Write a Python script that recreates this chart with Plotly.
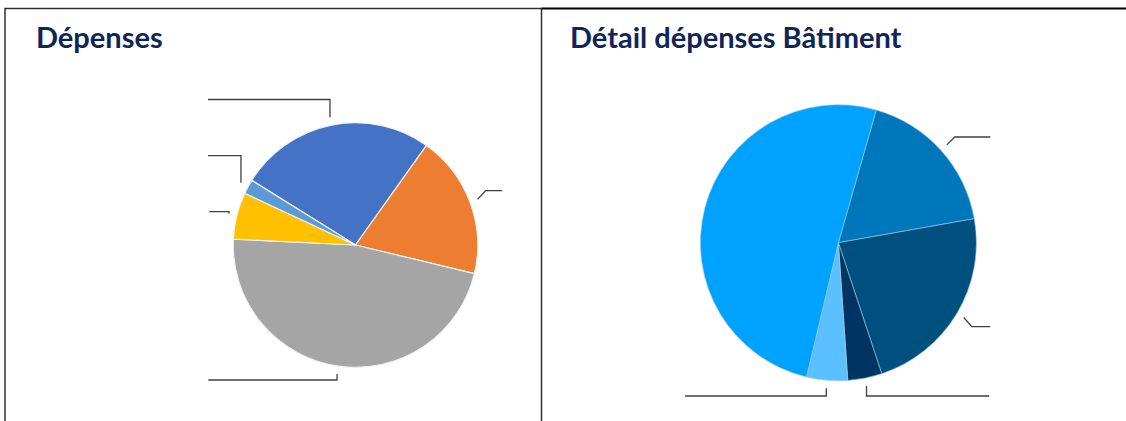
import math
import plotly.graph_objects as go

W, H = 1126, 421

# Dépenses (share of total, %)
dep_labels = ["Bâtiment", "Matériel", "Fonctionnement", "Formation", "Divers"]
dep_values = [26.0, 18.9, 47.0, 6.2, 1.9]
dep_colors = ["#4472C4", "#ED7D31", "#A5A5A5", "#FFC000", "#5B9BD5"]

# Détail dépenses Bâtiment (share, %)
bat_labels = ["Gros œuvre", "Second œuvre", "Équipements", "Études", "Aménagements"]
bat_values = [17.8, 22.7, 4.0, 4.8, 50.7]
bat_colors = ["#0077BB", "#00507F", "#003462", "#5BC0FF", "#00A2FF"]

# Pie geometry in pixels: centre x, centre y, radius, first-slice angle
DEP_GEOM = (355.5, 245.0, 122.3, 301.9)
BAT_GEOM = (838.4, 242.7, 138.0, 15.9)

# Where each leader line ends (label anchor) and how it bends
dep_label_pos = [(208, 99.5, "elbow"), (502, 190.7, "diag"), (208.3, 380, "elbow"),
                 (209.3, 211.7, "elbow"), (208, 155.7, "elbow")]
bat_label_pos = [(990.3, 137, "diag"), (990.3, 326.7, "diag"), (989.2, 396, "elbow"),
                 (685.1, 396, "elbow"), (None, None, None)]


def domain(geom):
    cx, cy, r, _ = geom
    return dict(x=[(cx - r) / W, (cx + r) / W],
                y=[1 - (cy + r) / H, 1 - (cy - r) / H])


def px(x, y):
    return x / W, 1 - y / H


def leader_shapes(values, geom, label_pos, gap=8):
    cx, cy, r, rot = geom
    total = sum(values)
    shapes = []
    start = rot
    for v, (lx, ly, kind) in zip(values, label_pos):
        span = 360 * v / total
        mid = math.radians(start + span / 2)
        start += span
        if kind is None:
            continue
        x0 = cx + (r + gap) * math.sin(mid)
        y0 = cy - (r + gap) * math.cos(mid)
        if kind == "elbow":
            x1 = x0
        else:
            x1 = x0 + (8 if lx > x0 else -8)
        pts = [(x0, y0), (x1, ly), (lx, ly)]
        path = "M " + " L ".join(f"{px(a, b)[0]:.5f},{px(a, b)[1]:.5f}" for a, b in pts)
        shapes.append(dict(type="path", path=path, xref="paper", yref="paper",
                           line=dict(color="#404040", width=1.3)))
    return shapes


fig = go.Figure()
fig.add_trace(go.Pie(labels=dep_labels, values=dep_values, sort=False,
                     direction="clockwise", rotation=DEP_GEOM[3],
                     marker=dict(colors=dep_colors, line=dict(color="#F2F2F2", width=1.2)),
                     textinfo="none", hoverinfo="label+percent",
                     domain=domain(DEP_GEOM), showlegend=False))
fig.add_trace(go.Pie(labels=bat_labels, values=bat_values, sort=False,
                     direction="clockwise", rotation=BAT_GEOM[3],
                     marker=dict(colors=bat_colors, line=dict(color="#9FC9E6", width=0.6)),
                     textinfo="none", hoverinfo="label+percent",
                     domain=domain(BAT_GEOM), showlegend=False))

shapes = []
shapes += leader_shapes(dep_values, DEP_GEOM, dep_label_pos)
shapes += leader_shapes(bat_values, BAT_GEOM, bat_label_pos)

# Panel frames
x0, y0 = px(5, 8.5)
x1, y1 = px(541.5, 440)
shapes.append(dict(type="rect", xref="paper", yref="paper", x0=x0, y0=y1, x1=x1, y1=y0,
                   line=dict(color="#303030", width=1.5)))
xa, ya = px(541.5, 8.5)
xb, _ = px(1130, 8.5)
shapes.append(dict(type="line", xref="paper", yref="paper", x0=xa, y0=ya, x1=xb, y1=ya,
                   line=dict(color="#000000", width=2)))

title_font = dict(family="Lato", size=29, color="#0F2557", weight=700)
annotations = [
    dict(text="Dépenses", x=34 / W, y=1 - 17 / H, xref="paper", yref="paper",
         xanchor="left", yanchor="top", showarrow=False, font=title_font),
    dict(text="Détail dépenses Bâtiment", x=568 / W, y=1 - 17 / H, xref="paper", yref="paper",
         xanchor="left", yanchor="top", showarrow=False, font=title_font),
]

fig.update_layout(width=W, height=H, margin=dict(l=0, r=0, t=0, b=0),
                  paper_bgcolor="white", plot_bgcolor="white",
                  shapes=shapes, annotations=annotations)

fig.write_html("out.html")
